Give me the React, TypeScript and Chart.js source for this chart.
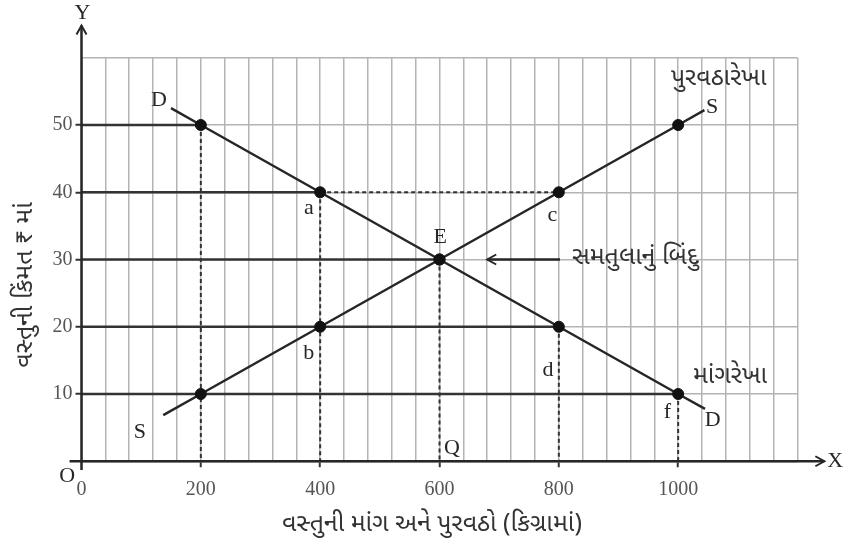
import React, { useEffect, useRef } from "react";
import { Chart, registerables } from "chart.js";
Chart.register(...registerables);

// Market points (quantity in kg, price in ₹)
const quantities = [200, 400, 600, 800, 1000];
const demandPrices = [50, 40, 30, 20, 10];
const supplyPrices = [10, 20, 30, 40, 50];
// Drawn extents of the demand and supply lines
const demandLineQ = [150, 200, 400, 600, 800, 1000, 1045];
const demandLineP = [52.5, 50, 40, 30, 20, 10, 7.8];
const supplyLineQ = [137, 200, 400, 600, 800, 1000, 1044];
const supplyLineP = [6.85, 10, 20, 30, 40, 50, 52.2];
// Tick labels
const xTickLabels = [0, 200, 400, 600, 800, 1000];
const yTickLabels = [10, 20, 30, 40, 50];
// Point / curve labels (data coordinates)
const labelTexts = ["D", "S", "પુરવઠારેખા", "S", "D", "માંગરેખા", "a", "b", "c", "d", "f", "E", "Q", "O"];
const labelQ = [130, 1057, 1068, 98, 1058, 1087, 381, 381, 789, 782, 982, 601, 621, -24];
const labelP = [53.7, 52.7, 56.6, 4.35, 6.1, 12.4, 37.6, 16.1, 36.6, 13.6, 7.3, 33.3, 2.0, -2.3];
// Equilibrium arrow
const eqArrowQ = [802, 680];
const eqArrowP = 30;
const eqText = "સમતુલાનું બિંદુ";
const eqTextQ = 822;
const xTitle = "વસ્તુની માંગ અને પુરવઠો (કિગ્રામાં)";
const yTitle = "વસ્તુની કિંમત ₹ માં";

const GUJ = '"Noto Sans Gujarati", "Lohit Gujarati", "Shruti", "Noto Sans", sans-serif';
const SERIF = '"Liberation Serif", "DejaVu Serif", serif';
const DARK = "#262626";

const annotate = {
  id: "annotate",
  afterDatasetsDraw(chart: any) {
    const { ctx } = chart;
    const x = chart.scales.x;
    const y = chart.scales.y;
    const px = (v: number) => x.getPixelForValue(v);
    const py = (v: number) => y.getPixelForValue(v);
    ctx.save();
    ctx.strokeStyle = DARK;
    ctx.fillStyle = DARK;
    ctx.lineCap = "butt";

    // axes with arrows
    ctx.lineWidth = 2.5;
    const x0 = px(0), y0 = py(0);
    const xEnd = px(1245), yEnd = py(64.8);
    ctx.beginPath();
    ctx.moveTo(px(-20), y0);
    ctx.lineTo(xEnd, y0);
    ctx.moveTo(x0, py(-1.3));
    ctx.lineTo(x0, yEnd);
    ctx.stroke();
    ctx.lineWidth = 2;
    ctx.beginPath();
    ctx.moveTo(xEnd - 9, y0 - 5);
    ctx.lineTo(xEnd, y0);
    ctx.lineTo(xEnd - 9, y0 + 5);
    ctx.moveTo(x0 - 5, yEnd + 9);
    ctx.lineTo(x0, yEnd);
    ctx.lineTo(x0 + 5, yEnd + 9);
    ctx.stroke();

    // equilibrium arrow
    ctx.lineWidth = 2.5;
    const ay = py(eqArrowP);
    const ax1 = px(eqArrowQ[0]), ax2 = px(eqArrowQ[1]);
    ctx.beginPath();
    ctx.moveTo(ax1, ay);
    ctx.lineTo(ax2, ay);
    ctx.stroke();
    ctx.lineWidth = 2;
    ctx.beginPath();
    ctx.moveTo(ax2 + 9, ay - 5);
    ctx.lineTo(ax2, ay);
    ctx.lineTo(ax2 + 9, ay + 5);
    ctx.stroke();

    // text labels
    ctx.textBaseline = "middle";
    ctx.textAlign = "center";
    labelTexts.forEach((t, i) => {
      const isGuj = /[\u0A80-\u0AFF]/.test(t);
      ctx.font = isGuj ? `25px ${GUJ}` : `22px ${SERIF}`;
      ctx.fillStyle = isGuj ? "#333" : DARK;
      ctx.fillText(t, px(labelQ[i]), py(labelP[i]));
    });
    ctx.fillStyle = "#333";
    ctx.font = `25px ${GUJ}`;
    ctx.textAlign = "left";
    ctx.fillText(eqText, px(eqTextQ), ay);

    ctx.fillStyle = DARK;
    ctx.font = `22px ${SERIF}`;
    ctx.textAlign = "center";
    ctx.fillText("X", px(1263), y0);
    ctx.fillText("Y", x0 + 1, py(66.6));

    // axis titles
    ctx.fillStyle = "#333";
    ctx.font = `25px ${GUJ}`;
    ctx.fillText(xTitle, 432, 526);
    ctx.save();
    ctx.translate(27, 285);
    ctx.rotate(-Math.PI / 2);
    ctx.fillText(yTitle, 0, 0);
    ctx.restore();
    ctx.restore();
  },
};

export default function App() {
  const ref = useRef<HTMLCanvasElement>(null);
  useEffect(() => {
    if (!ref.current) return;
    const seg = (pts: { x: number; y: number }[], dashed: boolean, color = DARK) => ({
      type: "line" as const,
      data: pts,
      borderColor: color,
      borderWidth: dashed ? 2 : 2.5,
      borderDash: dashed ? [4, 3] : [],
      pointRadius: 0,
      fill: false,
      order: 5,
    });
    const datasets: any[] = [
      {
        type: "scatter",
        data: [
          ...quantities.map((q, i) => ({ x: q, y: demandPrices[i] })),
          ...quantities.map((q, i) => ({ x: q, y: supplyPrices[i] })),
        ],
        pointRadius: 5.5,
        pointBackgroundColor: "#111",
        pointBorderColor: "#111",
        order: 1,
      },
      { ...seg(demandLineQ.map((q, i) => ({ x: q, y: demandLineP[i] })), false), order: 2 },
      { ...seg(supplyLineQ.map((q, i) => ({ x: q, y: supplyLineP[i] })), false), order: 2 },
      // horizontal solid guides from price axis to demand points
      ...quantities.map((q, i) => seg([{ x: 0, y: demandPrices[i] }, { x: q, y: demandPrices[i] }], false, "#333")),
      // dashed drops from demand points
      ...quantities.map((q, i) => seg([{ x: q, y: demandPrices[i] }, { x: q, y: 0 }], true, "#333")),
      // dashed a -> c
      seg([{ x: quantities[1], y: demandPrices[1] }, { x: quantities[3], y: supplyPrices[3] }], true, "#333"),
    ];
    const chart = new Chart(ref.current, {
      type: "line",
      data: { datasets },
      options: {
        animation: false,
        responsive: false,
        maintainAspectRatio: false,
        layout: { padding: { top: 57.75, right: 55.5, left: 0, bottom: 0 } },
        plugins: { legend: { display: false }, tooltip: { enabled: false }, title: { display: false } },
        scales: {
          x: {
            type: "linear",
            min: 0,
            max: 1200,
            afterFit: (s: any) => { s.height = 88.75; },
            ticks: {
              stepSize: 40,
              autoSkip: false,
              maxRotation: 0,
              padding: 10,
              color: "#555",
              font: { family: SERIF, size: 20 },
              callback: (v: any) => (xTickLabels.includes(Number(v)) ? String(v) : ""),
            },
            grid: {
              color: "#b4b4b4",
              lineWidth: 1.5,
              tickLength: 6,
              tickWidth: 2,
              tickColor: (c: any) => (c.tick && xTickLabels.includes(c.tick.value) && c.tick.value > 0 ? "#333" : "rgba(0,0,0,0)"),
            },
            border: { display: false },
          },
          y: {
            type: "linear",
            min: 0,
            max: 60,
            afterFit: (s: any) => { s.width = 81.5; },
            ticks: {
              stepSize: 10,
              autoSkip: false,
              padding: 3,
              color: "#555",
              font: { family: SERIF, size: 20 },
              callback: (v: any) => (yTickLabels.includes(Number(v)) ? String(v) : ""),
            },
            grid: {
              color: "#b4b4b4",
              lineWidth: 1.5,
              tickLength: 6,
              tickWidth: 2,
              tickColor: (c: any) => (c.tick && yTickLabels.includes(c.tick.value) ? "#333" : "rgba(0,0,0,0)"),
            },
            border: { display: false },
          },
        },
      },
      plugins: [annotate],
    });
    return () => chart.destroy();
  }, []);
  return (
    <div style={{ position: "fixed", left: 0, top: 0, width: 853, height: 550, background: "#fff" }}>
      <canvas ref={ref} width={853} height={550} style={{ width: 853, height: 550 }} />
    </div>
  );
}
